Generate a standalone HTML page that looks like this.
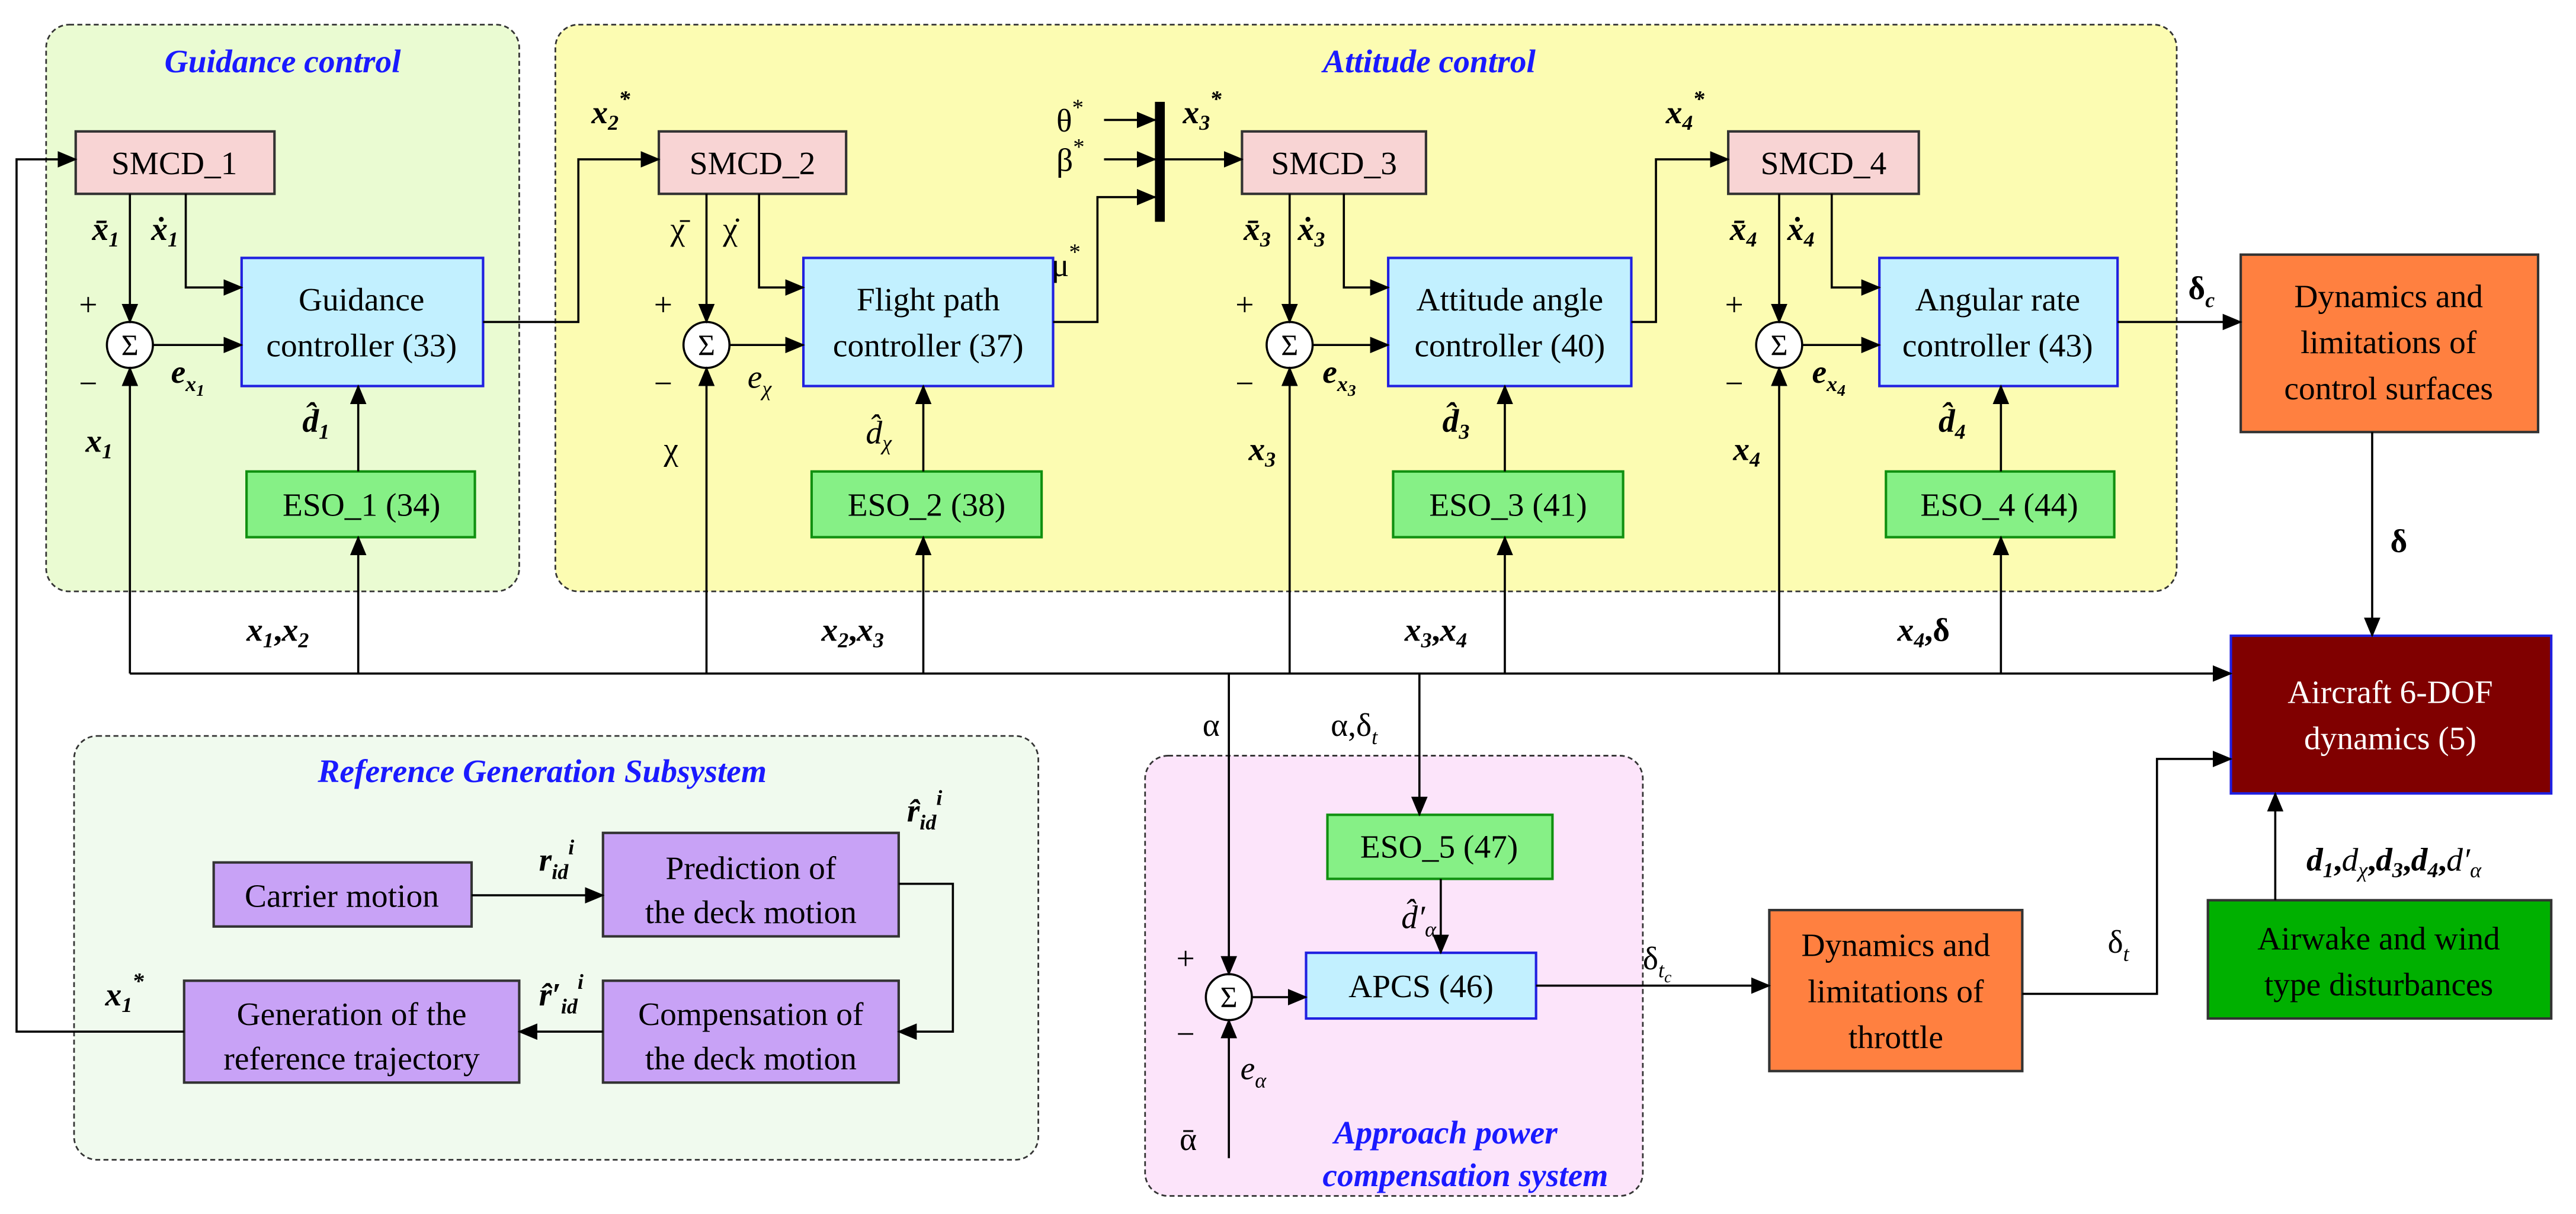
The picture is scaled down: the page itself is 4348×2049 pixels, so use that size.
<!DOCTYPE html>
<html><head><meta charset="utf-8"><style>
html,body{margin:0;padding:0;background:#fff;}
svg{display:block;}
text{font-family:"Liberation Serif",serif;}
</style></head><body>
<svg width="4348" height="2049" viewBox="0 0 1568 739" xmlns="http://www.w3.org/2000/svg">
<defs>
<marker id="a" markerWidth="12" markerHeight="10" refX="11" refY="5" orient="auto" markerUnits="userSpaceOnUse">
<path d="M0,0 L12,5 L0,10 z" fill="#000"/></marker>
</defs>
<rect width="1568" height="739" fill="#fff"/>
<!-- panels -->
<rect x="28" y="15" width="288" height="345" rx="14" fill="#eafbd2" stroke="#333" stroke-dasharray="3,2"/>
<rect x="338" y="15" width="987" height="345" rx="14" fill="#fcfcb2" stroke="#333" stroke-dasharray="3,2"/>
<rect x="45" y="448" width="587" height="258" rx="14" fill="#f0faee" stroke="#333" stroke-dasharray="3,2"/>
<rect x="697" y="460" width="303" height="268" rx="14" fill="#fce4fa" stroke="#333" stroke-dasharray="3,2"/>
<g font-weight="bold" font-style="italic" fill="#1a1aff" font-size="20" text-anchor="middle">
<text x="172" y="44">Guidance control</text>
<text x="870" y="44">Attitude control</text>
<text x="330" y="476">Reference Generation Subsystem</text>
<text x="880" y="696">Approach power</text>
<text x="892" y="722">compensation system</text>
</g>
<!-- boxes -->
<g stroke-width="1.5">
<rect x="46" y="80" width="121" height="38" fill="#f8d4d4" stroke="#333"/>
<rect x="401" y="80" width="114" height="38" fill="#f8d4d4" stroke="#333"/>
<rect x="756" y="80" width="112" height="38" fill="#f8d4d4" stroke="#333"/>
<rect x="1052" y="80" width="116" height="38" fill="#f8d4d4" stroke="#333"/>
<rect x="147" y="157" width="147" height="78" fill="#c2f0ff" stroke="#2020e0"/>
<rect x="489" y="157" width="152" height="78" fill="#c2f0ff" stroke="#2020e0"/>
<rect x="845" y="157" width="148" height="78" fill="#c2f0ff" stroke="#2020e0"/>
<rect x="1144" y="157" width="145" height="78" fill="#c2f0ff" stroke="#2020e0"/>
<rect x="795" y="580" width="140" height="40" fill="#c2f0ff" stroke="#2020e0"/>
<rect x="150" y="287" width="139" height="40" fill="#86f086" stroke="#109010"/>
<rect x="494" y="287" width="140" height="40" fill="#86f086" stroke="#109010"/>
<rect x="848" y="287" width="140" height="40" fill="#86f086" stroke="#109010"/>
<rect x="1148" y="287" width="139" height="40" fill="#86f086" stroke="#109010"/>
<rect x="808" y="496" width="137" height="39" fill="#86f086" stroke="#109010"/>
<rect x="1364" y="155" width="181" height="108" fill="#ff8040" stroke="#333"/>
<rect x="1077" y="554" width="154" height="98" fill="#ff8040" stroke="#333"/>
<rect x="1358" y="387" width="195" height="96" fill="#800000" stroke="#2020e0"/>
<rect x="1344" y="548" width="209" height="72" fill="#00b000" stroke="#333"/>
<rect x="130" y="525" width="157" height="39" fill="#c8a2f6" stroke="#333"/>
<rect x="367" y="507" width="180" height="63" fill="#c8a2f6" stroke="#333"/>
<rect x="367" y="597" width="180" height="62" fill="#c8a2f6" stroke="#333"/>
<rect x="112" y="597" width="204" height="62" fill="#c8a2f6" stroke="#333"/>
<rect x="703" y="62" width="6" height="73" fill="#000"/>
</g>
<g font-size="20" text-anchor="middle" fill="#000">
<text x="106" y="106">SMCD_1</text>
<text x="458" y="106">SMCD_2</text>
<text x="812" y="106">SMCD_3</text>
<text x="1110" y="106">SMCD_4</text>
<text x="220" y="189">Guidance</text><text x="220" y="217">controller (33)</text>
<text x="565" y="189">Flight path</text><text x="565" y="217">controller (37)</text>
<text x="919" y="189">Attitude angle</text><text x="919" y="217">controller (40)</text>
<text x="1216" y="189">Angular rate</text><text x="1216" y="217">controller (43)</text>
<text x="220" y="314">ESO_1 (34)</text>
<text x="564" y="314">ESO_2 (38)</text>
<text x="918" y="314">ESO_3 (41)</text>
<text x="1217" y="314">ESO_4 (44)</text>
<text x="876" y="522">ESO_5 (47)</text>
<text x="865" y="607">APCS (46)</text>
<text x="1454" y="187">Dynamics and</text><text x="1454" y="215">limitations of</text><text x="1454" y="243">control surfaces</text>
<text x="1154" y="582">Dynamics and</text><text x="1154" y="610">limitations of</text><text x="1154" y="638">throttle</text>
<text x="1455" y="428" fill="#fff">Aircraft 6-DOF</text><text x="1455" y="456" fill="#fff">dynamics (5)</text>
<text x="1448" y="578">Airwake and wind</text><text x="1448" y="606">type disturbances</text>
<text x="208" y="552">Carrier motion</text>
<text x="457" y="535">Prediction of</text><text x="457" y="562">the deck motion</text>
<text x="457" y="624">Compensation of</text><text x="457" y="651">the deck motion</text>
<text x="214" y="624">Generation of the</text><text x="214" y="651">reference trajectory</text>
</g>
<!-- sums -->
<g fill="#fff" stroke="#000" stroke-width="1.3">
<circle cx="79" cy="210" r="14"/><circle cx="430" cy="210" r="14"/><circle cx="785" cy="210" r="14"/><circle cx="1083" cy="210" r="14"/><circle cx="748" cy="607" r="14"/>
</g>
<g font-size="18" text-anchor="middle">
<text x="79" y="216">Σ</text><text x="430" y="216">Σ</text><text x="785" y="216">Σ</text><text x="1083" y="216">Σ</text><text x="748" y="613">Σ</text>
</g>
<!-- lines -->
<g stroke="#000" stroke-width="1.3" fill="none">
<polyline points="79,410 1358,410" marker-end="url(#a)"/>
<line x1="79" y1="410" x2="79" y2="224" marker-end="url(#a)"/>
<line x1="218" y1="410" x2="218" y2="327" marker-end="url(#a)"/>
<line x1="430" y1="410" x2="430" y2="224" marker-end="url(#a)"/>
<line x1="562" y1="410" x2="562" y2="327" marker-end="url(#a)"/>
<line x1="785" y1="410" x2="785" y2="224" marker-end="url(#a)"/>
<line x1="916" y1="410" x2="916" y2="327" marker-end="url(#a)"/>
<line x1="1083" y1="410" x2="1083" y2="224" marker-end="url(#a)"/>
<line x1="1218" y1="410" x2="1218" y2="327" marker-end="url(#a)"/>
<line x1="748" y1="410" x2="748" y2="593" marker-end="url(#a)"/>
<line x1="864" y1="410" x2="864" y2="496" marker-end="url(#a)"/>
<line x1="218" y1="287" x2="218" y2="235" marker-end="url(#a)"/>
<line x1="562" y1="287" x2="562" y2="235" marker-end="url(#a)"/>
<line x1="916" y1="287" x2="916" y2="235" marker-end="url(#a)"/>
<line x1="1218" y1="287" x2="1218" y2="235" marker-end="url(#a)"/>
<line x1="93" y1="210" x2="147" y2="210" marker-end="url(#a)"/>
<line x1="444" y1="210" x2="489" y2="210" marker-end="url(#a)"/>
<line x1="799" y1="210" x2="845" y2="210" marker-end="url(#a)"/>
<line x1="1097" y1="210" x2="1144" y2="210" marker-end="url(#a)"/>
<line x1="79" y1="118" x2="79" y2="196" marker-end="url(#a)"/>
<polyline points="113,118 113,175 147,175" marker-end="url(#a)"/>
<line x1="430" y1="118" x2="430" y2="196" marker-end="url(#a)"/>
<polyline points="462,118 462,175 489,175" marker-end="url(#a)"/>
<line x1="785" y1="118" x2="785" y2="196" marker-end="url(#a)"/>
<polyline points="818,118 818,175 845,175" marker-end="url(#a)"/>
<line x1="1083" y1="118" x2="1083" y2="196" marker-end="url(#a)"/>
<polyline points="1115,118 1115,175 1144,175" marker-end="url(#a)"/>
<polyline points="294,196 352,196 352,97 401,97" marker-end="url(#a)"/>
<polyline points="641,196 668,196 668,120 703,120" marker-end="url(#a)"/>
<line x1="672" y1="73" x2="703" y2="73" marker-end="url(#a)"/>
<line x1="672" y1="97" x2="703" y2="97" marker-end="url(#a)"/>
<line x1="709" y1="97" x2="756" y2="97" marker-end="url(#a)"/>
<polyline points="993,196 1008,196 1008,97 1052,97" marker-end="url(#a)"/>
<line x1="1289" y1="196" x2="1364" y2="196" marker-end="url(#a)"/>
<line x1="1444" y1="263" x2="1444" y2="387" marker-end="url(#a)"/>
<line x1="1385" y1="548" x2="1385" y2="483" marker-end="url(#a)"/>
<polyline points="1231,605 1313,605 1313,462 1358,462" marker-end="url(#a)"/>
<line x1="935" y1="600" x2="1077" y2="600" marker-end="url(#a)"/>
<line x1="877" y1="535" x2="877" y2="580" marker-end="url(#a)"/>
<line x1="762" y1="607" x2="795" y2="607" marker-end="url(#a)"/>
<line x1="748" y1="705" x2="748" y2="621" marker-end="url(#a)"/>
<line x1="287" y1="545" x2="367" y2="545" marker-end="url(#a)"/>
<polyline points="547,538 580,538 580,628 547,628" marker-end="url(#a)"/>
<line x1="367" y1="628" x2="316" y2="628" marker-end="url(#a)"/>
<polyline points="112,628 10,628 10,97 46,97" marker-end="url(#a)"/>
</g>
<!-- labels -->
<g font-size="20" fill="#000">
<text x="48" y="192">+</text><text x="48" y="240">−</text>
<text x="398" y="192">+</text><text x="398" y="240">−</text>
<text x="752" y="192">+</text><text x="752" y="240">−</text>
<text x="1050" y="192">+</text><text x="1050" y="240">−</text>
<text x="716" y="590">+</text><text x="716" y="636">−</text>
<g font-weight="bold" font-style="italic">
<text x="52" y="275">x<tspan font-size="13" dy="4">1</tspan></text>
<text x="56" y="146">x̄<tspan font-size="13" dy="4">1</tspan></text>
<text x="92" y="146">ẋ<tspan font-size="13" dy="4">1</tspan></text>
<text x="104" y="233">e<tspan font-size="13" dy="5">x<tspan font-size="10" dy="3">1</tspan></tspan></text>
<text x="184" y="263">d̂<tspan font-size="13" dy="4">1</tspan></text>
<text x="150" y="390">x<tspan font-size="13" dy="4">1</tspan><tspan dy="-4" font-style="normal">,</tspan>x<tspan font-size="13" dy="4">2</tspan></text>
<text x="500" y="390">x<tspan font-size="13" dy="4">2</tspan><tspan dy="-4" font-style="normal">,</tspan>x<tspan font-size="13" dy="4">3</tspan></text>
<text x="855" y="390">x<tspan font-size="13" dy="4">3</tspan><tspan dy="-4" font-style="normal">,</tspan>x<tspan font-size="13" dy="4">4</tspan></text>
<text x="1155" y="390">x<tspan font-size="13" dy="4">4</tspan><tspan dy="-4" font-style="normal">,δ</tspan></text>
<text x="360" y="75">x<tspan font-size="13" dy="4">2</tspan><tspan font-size="14" dy="-14">*</tspan></text>
<text x="720" y="75">x<tspan font-size="13" dy="4">3</tspan><tspan font-size="14" dy="-14">*</tspan></text>
<text x="1014" y="75">x<tspan font-size="13" dy="4">4</tspan><tspan font-size="14" dy="-14">*</tspan></text>
<text x="757" y="146">x̄<tspan font-size="13" dy="4">3</tspan></text>
<text x="790" y="146">ẋ<tspan font-size="13" dy="4">3</tspan></text>
<text x="760" y="280">x<tspan font-size="13" dy="4">3</tspan></text>
<text x="805" y="233">e<tspan font-size="13" dy="5">x<tspan font-size="10" dy="3">3</tspan></tspan></text>
<text x="878" y="263">d̂<tspan font-size="13" dy="4">3</tspan></text>
<text x="1053" y="146">x̄<tspan font-size="13" dy="4">4</tspan></text>
<text x="1088" y="146">ẋ<tspan font-size="13" dy="4">4</tspan></text>
<text x="1055" y="280">x<tspan font-size="13" dy="4">4</tspan></text>
<text x="1103" y="233">e<tspan font-size="13" dy="5">x<tspan font-size="10" dy="3">4</tspan></tspan></text>
<text x="1180" y="263">d̂<tspan font-size="13" dy="4">4</tspan></text>
<text x="328" y="530">r<tspan font-size="13" dy="5">id</tspan><tspan font-size="13" dy="-15">i</tspan></text>
<text x="552" y="500">r̂<tspan font-size="13" dy="5">id</tspan><tspan font-size="13" dy="-15">i</tspan></text>
<text x="328" y="612">r̂′<tspan font-size="13" dy="5">id</tspan><tspan font-size="13" dy="-15">i</tspan></text>
<text x="64" y="612">x<tspan font-size="13" dy="4">1</tspan><tspan font-size="14" dy="-14">*</tspan></text>
<text x="1455" y="336" font-style="normal">δ</text>
<text x="1332" y="182" font-style="normal">δ<tspan font-size="13" dy="5" font-style="italic">c</tspan></text>
<text x="1404" y="530">d<tspan font-size="13" dy="4">1</tspan><tspan dy="-4" font-style="normal">,</tspan><tspan font-weight="normal">d</tspan><tspan font-size="13" dy="4" font-weight="normal">χ</tspan><tspan dy="-4" font-style="normal">,</tspan>d<tspan font-size="13" dy="4">3</tspan><tspan dy="-4" font-style="normal">,</tspan>d<tspan font-size="13" dy="4">4</tspan><tspan dy="-4" font-style="normal">,</tspan><tspan font-weight="normal">d′</tspan><tspan font-size="13" dy="4" font-weight="normal">α</tspan></text>
</g>
<text x="408" y="146">χ̄</text><text x="440" y="146">χ̇</text>
<text x="404" y="280">χ</text>
<text x="455" y="236" font-style="italic">e<tspan font-size="13" dy="5">χ</tspan></text>
<text x="527" y="270" font-style="italic">d̂<tspan font-size="13" dy="4">χ</tspan></text>
<text x="640" y="168">μ<tspan font-size="14" dy="-10">*</tspan></text>
<text x="643" y="80">θ<tspan font-size="14" dy="-10">*</tspan></text>
<text x="643" y="104">β<tspan font-size="14" dy="-10">*</tspan></text>
<text x="732" y="448">α</text>
<text x="810" y="448">α,δ<tspan font-size="13" dy="5" font-style="italic">t</tspan></text>
<text x="853" y="565" font-style="italic">d̂′<tspan font-size="13" dy="5">α</tspan></text>
<text x="755" y="657" font-style="italic">e<tspan font-size="13" dy="5">α</tspan></text>
<text x="718" y="700">ᾱ</text>
<text x="1000" y="590">δ<tspan font-size="13" dy="5" font-style="italic">t<tspan font-size="10" dy="3">c</tspan></tspan></text>
<text x="1283" y="580">δ<tspan font-size="13" dy="5" font-style="italic">t</tspan></text>
</g>
</svg>
</body></html>
